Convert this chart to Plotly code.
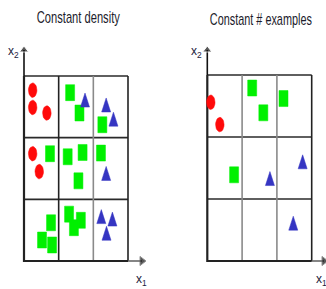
import numpy as np
import plotly.graph_objects as go

W, H = 326, 289

# ---- data (cell units: each grid spans 0..3 in x1 and x2) ----
titles = ["Constant density", "Constant # examples"]
grid_edges = [0, 1, 2, 3]

left_red_x = [0.25, 0.25, 0.66, 0.25, 0.44]
left_red_y = [2.77, 2.49, 2.40, 1.74, 1.45]
left_green_x = [1.33, 1.60, 2.26, 0.75, 1.26, 1.69, 1.57, 2.22, 0.78, 0.52, 0.81, 1.30, 1.64, 1.44]
left_green_y = [2.73, 2.40, 2.21, 1.74, 1.69, 1.76, 1.30, 1.75, 0.62, 0.34, 0.26, 0.76, 0.66, 0.54]
left_blue_x = [1.76, 2.37, 2.58, 2.37, 2.23, 2.55, 2.38]
left_blue_y = [2.61, 2.53, 2.30, 1.42, 0.72, 0.68, 0.45]

right_red_x = [0.10, 0.36]
right_red_y = [2.56, 2.20]
right_green_x = [1.29, 1.61, 2.19, 0.77]
right_green_y = [2.79, 2.39, 2.62, 1.39]
right_blue_x = [2.74, 1.80, 2.47]
right_blue_y = [1.60, 1.33, 0.61]

# ---- layout (pixel geometry) ----
panels = [
    dict(bx0=24.0, bx1=128.0, by_top=76.0, by_bot=261.0, d0=0, d1=163,
         xa="x", ya="y", title_x=78, title_y=18, title_w=83,
         vcolors=["#222", "#222", "#8a8a8a", "#222"],
         xtip=142, ytip=50, lab2=(13, 52), lab1=(141, 280)),
    dict(bx0=207.3, bx1=311.7, by_top=75.0, by_bot=261.0, d0=163, d1=326,
         xa="x2", ya="y2", title_x=261, title_y=19, title_w=102,
         vcolors=["#222", "#8a8a8a", "#8a8a8a", "#222"],
         xtip=324, ytip=50, lab2=(197, 52), lab1=(321, 280)),
]
data_sets = [
    (left_red_x, left_red_y, left_green_x, left_green_y, left_blue_x, left_blue_y),
    (right_red_x, right_red_y, right_green_x, right_green_y, right_blue_x, right_blue_y),
]

RED, GREEN, BLUE = "#ff0a0a", "#00f000", "#3535c2"
SQ = (9.0, 16.0)
CI = (8.5, 14.5)
TR = (9.0, 14.0)


def polys(cx, cy, kind, wpx, hpx, sx, sy):
    w, h = wpx / sx, hpx / sy
    xs, ys = [], []
    for x, y in zip(cx, cy):
        if kind == "square":
            px = [x - w / 2, x + w / 2, x + w / 2, x - w / 2, x - w / 2]
            py = [y - h / 2, y - h / 2, y + h / 2, y + h / 2, y - h / 2]
        elif kind == "circle":
            t = np.linspace(0, 2 * np.pi, 25)
            px = list(x + w / 2 * np.cos(t))
            py = list(y + h / 2 * np.sin(t))
        else:
            px = [x - w / 2, x + w / 2, x, x - w / 2]
            py = [y - h / 2, y - h / 2, y + h / 2, y - h / 2]
        xs += px + [None]
        ys += py + [None]
    return xs, ys


fig = go.Figure()
annotations = []
FONT = "Liberation Sans, Arial, sans-serif"

for p, ds in zip(panels, data_sets):
    sx = (p["bx1"] - p["bx0"]) / 3.0
    sy = (p["by_bot"] - p["by_top"]) / 3.0
    xr = [(p["d0"] - p["bx0"]) / sx, (p["d1"] - p["bx0"]) / sx]
    yr = [(p["by_bot"] - H) / sy, p["by_bot"] / sy]
    p["xr"], p["yr"] = xr, yr
    xa, ya = p["xa"], p["ya"]

    for e in grid_edges[1:]:
        fig.add_trace(go.Scatter(x=[grid_edges[0], grid_edges[-1]], y=[e, e], mode="lines",
                                 line=dict(color="#2a2a2a", width=1.6), xaxis=xa, yaxis=ya,
                                 hoverinfo="skip", showlegend=False))
    for e, c in zip(grid_edges[1:], p["vcolors"][1:]):
        fig.add_trace(go.Scatter(x=[e, e], y=[grid_edges[0], grid_edges[-1]], mode="lines",
                                 line=dict(color=c, width=1.6), xaxis=xa, yaxis=ya,
                                 hoverinfo="skip", showlegend=False))

    # axis arrows
    xt = (p["xtip"] - p["bx0"]) / sx
    yt = (p["by_bot"] - p["ytip"]) / sy
    fig.add_trace(go.Scatter(x=[grid_edges[-1], xt], y=[0, 0], mode="lines+markers",
                             line=dict(color="#666", width=1.6),
                             marker=dict(symbol="triangle-right", size=[0, 8], color="#111"),
                             xaxis=xa, yaxis=ya, hoverinfo="skip", showlegend=False))
    fig.add_trace(go.Scatter(x=[0, 0], y=[grid_edges[-1], yt], mode="lines+markers",
                             line=dict(color="#111", width=1.6),
                             marker=dict(symbol="triangle-up", size=[0, 8], color="#111"),
                             xaxis=xa, yaxis=ya, hoverinfo="skip", showlegend=False))
    fig.add_trace(go.Scatter(x=[0, 0, 3], y=[3, 0, 0], mode="lines",
                             line=dict(color="#222", width=2.2), xaxis=xa, yaxis=ya,
                             hoverinfo="skip", showlegend=False))

    rx, ry, gx, gy, bx, by = ds
    for cx, cy, kind, sz, col in [(gx, gy, "square", SQ, GREEN),
                                  (rx, ry, "circle", CI, RED),
                                  (bx, by, "tri", TR, BLUE)]:
        xs, ys = polys(cx, cy, kind, sz[0], sz[1], sx, sy)
        fig.add_trace(go.Scatter(x=xs, y=ys, mode="lines", fill="toself", fillcolor=col,
                                 line=dict(color=col, width=0.5), xaxis=xa, yaxis=ya,
                                 hoverinfo="skip", showlegend=False))

for p, t in zip(panels, titles):
    annotations.append(dict(x=p["title_x"] / W, y=1 - p["title_y"] / H, xref="paper", yref="paper",
                            text=t, showarrow=False, xanchor="center", yanchor="middle",
                            font=dict(family=FONT, size=17, color="#1c1c2c")))
    annotations.append(dict(x=p["lab2"][0] / W, y=1 - p["lab2"][1] / H, xref="paper", yref="paper",
                            text="x<sub>2</sub>", showarrow=False, xanchor="center", yanchor="middle",
                            font=dict(family=FONT, size=12, color="#1c1c3c")))
    annotations.append(dict(x=p["lab1"][0] / W, y=1 - p["lab1"][1] / H, xref="paper", yref="paper",
                            text="x<sub>1</sub>", showarrow=False, xanchor="center", yanchor="middle",
                            font=dict(family=FONT, size=12, color="#1c1c3c")))

ax_common = dict(showgrid=False, zeroline=False, showticklabels=False, ticks="",
                 showline=False, fixedrange=True)
fig.update_layout(
    width=W, height=H, margin=dict(l=0, r=0, t=0, b=0),
    paper_bgcolor="white", plot_bgcolor="white", showlegend=False,
    xaxis=dict(domain=[panels[0]["d0"] / W, panels[0]["d1"] / W], range=panels[0]["xr"],
               anchor="y", **ax_common),
    yaxis=dict(domain=[0, 1], range=panels[0]["yr"], anchor="x", **ax_common),
    xaxis2=dict(domain=[panels[1]["d0"] / W, panels[1]["d1"] / W], range=panels[1]["xr"],
                anchor="y2", **ax_common),
    yaxis2=dict(domain=[0, 1], range=panels[1]["yr"], anchor="x2", **ax_common),
    annotations=annotations,
)

widths_js = "{" + ",".join('"%s":%d' % (t, p["title_w"]) for t, p in zip(titles, panels)) + "}"
post = """
document.body.style.margin = '0';
var gd = document.getElementById('{plot_id}');
var TW = %s;
function squeeze() {
  gd.querySelectorAll('text.annotation-text').forEach(function(t) {
    var w = TW[t.textContent];
    if (w) { t.setAttribute('textLength', w); t.setAttribute('lengthAdjust', 'spacingAndGlyphs'); }
  });
}
squeeze();
gd.on('plotly_afterplot', squeeze);
""" % widths_js

fig.write_html("out.html", post_script=post, config={"displayModeBar": False, "staticPlot": True})
